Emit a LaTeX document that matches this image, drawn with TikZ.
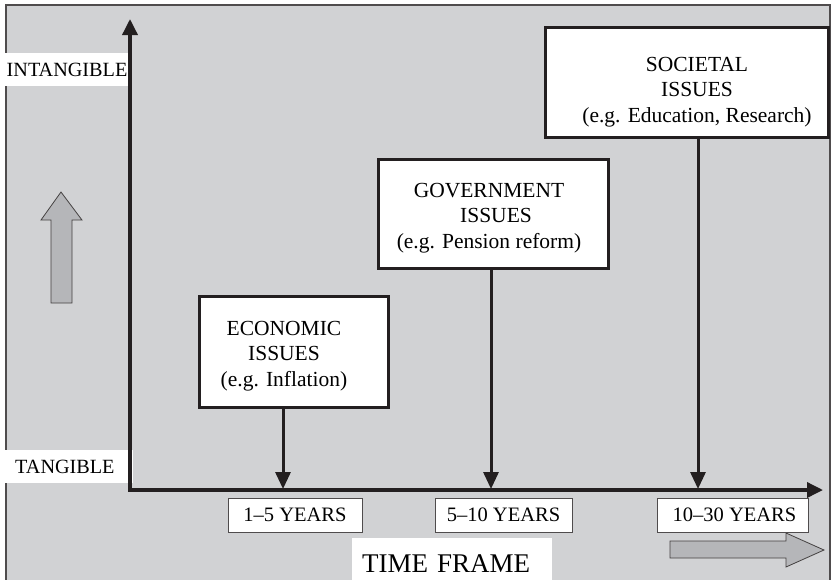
\documentclass[tikz,border=0pt]{standalone}
\usepackage{fontspec}
\setmainfont{Liberation Serif}
\usetikzlibrary{arrows.meta}
\definecolor{bg}{HTML}{D1D2D4}
\definecolor{ink}{HTML}{231F20}
\definecolor{arrowgrey}{HTML}{B5B6B9}
\begin{document}
\begin{tikzpicture}[x=1pt,y=-1pt,
  issuebox/.style={draw=ink, line width=3pt, fill=white, inner sep=0pt},
  issuetext/.style={align=center, font=\fontsize{21.5}{25.5}\selectfont, inner sep=0pt},
  yearbox/.style={draw=ink!80, line width=1pt, fill=white, inner sep=0pt, minimum height=34pt, font=\fontsize{20.5}{24}\selectfont},
  sidelabel/.style={fill=white, inner ysep=0pt, minimum height=33pt, font=\fontsize{20.2}{24}\selectfont, anchor=west, align=left},
  conn/.style={draw=ink, line width=3pt, -{Triangle[width=15pt,length=17pt]}},
  axis/.style={draw=ink, line width=3.5pt, {Triangle[width=15pt,length=16pt]}-{Triangle[width=15pt,length=16pt]}},
  bigarrow/.style={draw=ink!85, line width=0.8pt, fill=arrowgrey}
]
\clip (0,0) rectangle (832,579);
% background panel
\draw[draw=ink!80, line width=1.5pt, fill=bg] (6,5) rectangle (830,600);

% side labels
\node (intang) [sidelabel, inner xsep=1.5pt, text width=124pt] at (5,69.5) {INTANGIBLE};
\node (tang) [sidelabel, inner xsep=0pt, text width=128pt] at (5,466.5) {\hspace{10pt}TANGIBLE};

% axes
\coordinate (ytop) at (130,19);
\coordinate (o) at (130,490);
\coordinate (xend) at (823,490);
\draw[axis] (ytop) -- (o) -- (xend);

% grey direction arrows
\draw[bigarrow] (61,192) -- (82,220) -- (72,220) -- (72,303) -- (51,303) -- (51,220) -- (41,220) -- cycle;
\draw[bigarrow] (670,541) -- (786,541) -- (786,533) -- (824,550) -- (786,567) -- (786,558) -- (670,558) -- cycle;

% issue boxes
\node (eco) [issuebox, minimum width=189pt, minimum height=111pt] at (293.5,351.5) {};
\node (ecot) [issuetext] at (284,356) {ECONOMIC\\ISSUES\\(e.g. Inflation)};
\node (gov) [issuebox, minimum width=230pt, minimum height=109pt] at (493,213.5) {};
\node (govt) [issuetext] at (489,218) {GOVERNMENT\\\hspace{14pt}ISSUES\\(e.g. Pension reform)};
\node (soc) [issuebox, minimum width=283pt, minimum height=110pt] at (686.5,82) {};
\node (soct) [issuetext] at (697,92) {SOCIETAL\\ISSUES\\(e.g. Education, Research)};

% connectors to the time axis
\coordinate (t1) at (283,489);
\coordinate (t2) at (491,489);
\coordinate (t3) at (698,489);
\draw[conn] (eco.south -| t1) -- (t1);
\draw[conn] (gov.south -| t2) -- (t2);
\draw[conn] (soc.south -| t3) -- (t3);

% year labels
\node (y1) [yearbox, minimum width=134pt] at (295,515) {1--5 YEARS};
\node (y2) [yearbox, minimum width=137pt] at (503.5,515) {5--10 YEARS};
\node (y3) [yearbox, minimum width=151pt] at (732.5,515) {\hspace{4pt}10--30 YEARS};

% time frame label
\node (tf) [fill=white, inner xsep=10pt, inner ysep=0pt, text width=180pt, minimum height=50pt, anchor=north west, align=left, font=\fontsize{27}{30}\selectfont] at (352,538) {TIME FRAME};
\end{tikzpicture}
\end{document}
